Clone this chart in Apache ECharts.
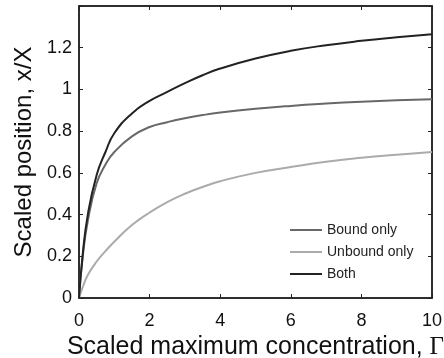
<!DOCTYPE html>
<html>
<head>
<meta charset="utf-8">
<script src="https://cdn.jsdelivr.net/npm/echarts@6/dist/echarts.min.js"></script>
<style>
    html, body { margin: 0; padding: 0; background: #fff; }
    #chart { width: 444px; height: 358px; }
</style>
</head>
<body>
<div id="chart"></div>
<script>
// values
var gammaValues = [0, 0.1, 0.25, 0.5, 0.75, 1, 1.5, 2, 2.5, 3, 3.5, 4, 5, 6, 7, 8, 9, 10];
var boundOnly   = [0, 0.19, 0.37, 0.55, 0.64, 0.70, 0.775, 0.82, 0.843, 0.862, 0.877, 0.889, 0.907, 0.921, 0.932, 0.941, 0.948, 0.953];
var unboundOnly = [0, 0.05, 0.11, 0.175, 0.225, 0.27, 0.35, 0.41, 0.46, 0.50, 0.532, 0.56, 0.60, 0.628, 0.653, 0.672, 0.687, 0.70];
var bothValues  = [0, 0.2, 0.4, 0.59, 0.70, 0.79, 0.885, 0.945, 0.988, 1.03, 1.068, 1.10, 1.148, 1.185, 1.212, 1.233, 1.25, 1.265];

var seriesNames = ['Bound only', 'Unbound only', 'Both'];
var xTicks = [0, 2, 4, 6, 8, 10];
var yTicks = [0, 0.2, 0.4, 0.6, 0.8, 1, 1.2];

(function () {
    function pairs(ys) {
        var out = [];
        for (var i = 0; i < gammaValues.length; i++) {
            out.push([gammaValues[i], ys[i]]);
        }
        return out;
    }

    var font = '"Liberation Sans", Arial, Helvetica, sans-serif';
    var frame = {show: true, onZero: false, lineStyle: {color: '#222', width: 1.5}};
    var tick = {show: true, inside: true, length: 4, lineStyle: {color: '#222', width: 1}};

    var chart = echarts.init(document.getElementById('chart'));

    var option = {
        animation: false,
        grid: {
            left: 79, right: 12, top: 6, bottom: 60,
            outerBoundsMode: 'none',
            containLabel: false,
            show: true,
            borderColor: '#222',
            borderWidth: 1.5,
            backgroundColor: 'transparent'
        },
        legend: {
            orient: 'vertical',
            left: 290,
            top: 223,
            padding: 0,
            icon: 'rect',
            itemWidth: 32,
            itemHeight: 2,
            itemGap: 8,
            textStyle: {fontFamily: font, fontSize: 14, color: '#222'},
            data: seriesNames
        },
        xAxis: [
            {
                type: 'value',
                min: 0,
                max: 10,
                interval: 2,
                name: 'Scaled maximum concentration, {g|Γ}',
                nameLocation: 'middle',
                nameGap: 33,
                nameTextStyle: {
                    fontFamily: font, fontSize: 25, color: '#111',
                    rich: {g: {fontFamily: '"Liberation Serif", "DejaVu Serif", serif', fontSize: 25, color: '#111'}}
                },
                axisLine: frame,
                axisTick: tick,
                splitLine: {show: false},
                axisLabel: {
                    fontFamily: font, fontSize: 18, color: '#111', margin: 14,
                    formatter: function (v) { return xTicks.indexOf(v) > -1 ? String(v) : ''; }
                }
            },
            {
                type: 'value',
                position: 'top',
                min: 0,
                max: 10,
                interval: 2,
                axisLine: frame,
                axisTick: tick,
                axisLabel: {show: false},
                splitLine: {show: false}
            }
        ],
        yAxis: [
            {
                type: 'value',
                min: 0,
                max: 1.4,
                interval: 0.2,
                name: 'Scaled position, x/X',
                nameLocation: 'middle',
                nameGap: 43,
                nameTextStyle: {fontFamily: font, fontSize: 24, color: '#111'},
                axisLine: frame,
                axisTick: tick,
                splitLine: {show: false},
                axisLabel: {
                    fontFamily: font, fontSize: 18, color: '#111', margin: 7,
                    formatter: function (v) {
                        var r = parseFloat(v.toFixed(1));
                        return yTicks.indexOf(r) > -1 ? String(r) : '';
                    }
                }
            },
            {
                type: 'value',
                position: 'right',
                min: 0,
                max: 1.4,
                interval: 0.2,
                axisLine: frame,
                axisTick: tick,
                axisLabel: {show: false},
                splitLine: {show: false}
            }
        ],
        series: [
            {
                name: seriesNames[0],
                type: 'line',
                data: pairs(boundOnly),
                symbol: 'none',
                smooth: true,
                itemStyle: {color: '#686868'},
                lineStyle: {color: '#686868', width: 2}
            },
            {
                name: seriesNames[1],
                type: 'line',
                data: pairs(unboundOnly),
                symbol: 'none',
                smooth: true,
                itemStyle: {color: '#ababab'},
                lineStyle: {color: '#ababab', width: 2}
            },
            {
                name: seriesNames[2],
                type: 'line',
                data: pairs(bothValues),
                symbol: 'none',
                smooth: true,
                itemStyle: {color: '#222'},
                lineStyle: {color: '#222', width: 2}
            },
            {
                // keeps the top/right tick axes attached
                type: 'line',
                xAxisIndex: 1,
                yAxisIndex: 1,
                data: [],
                silent: true
            }
        ]
    };

    chart.setOption(option);
})();
</script>
</body>
</html>
